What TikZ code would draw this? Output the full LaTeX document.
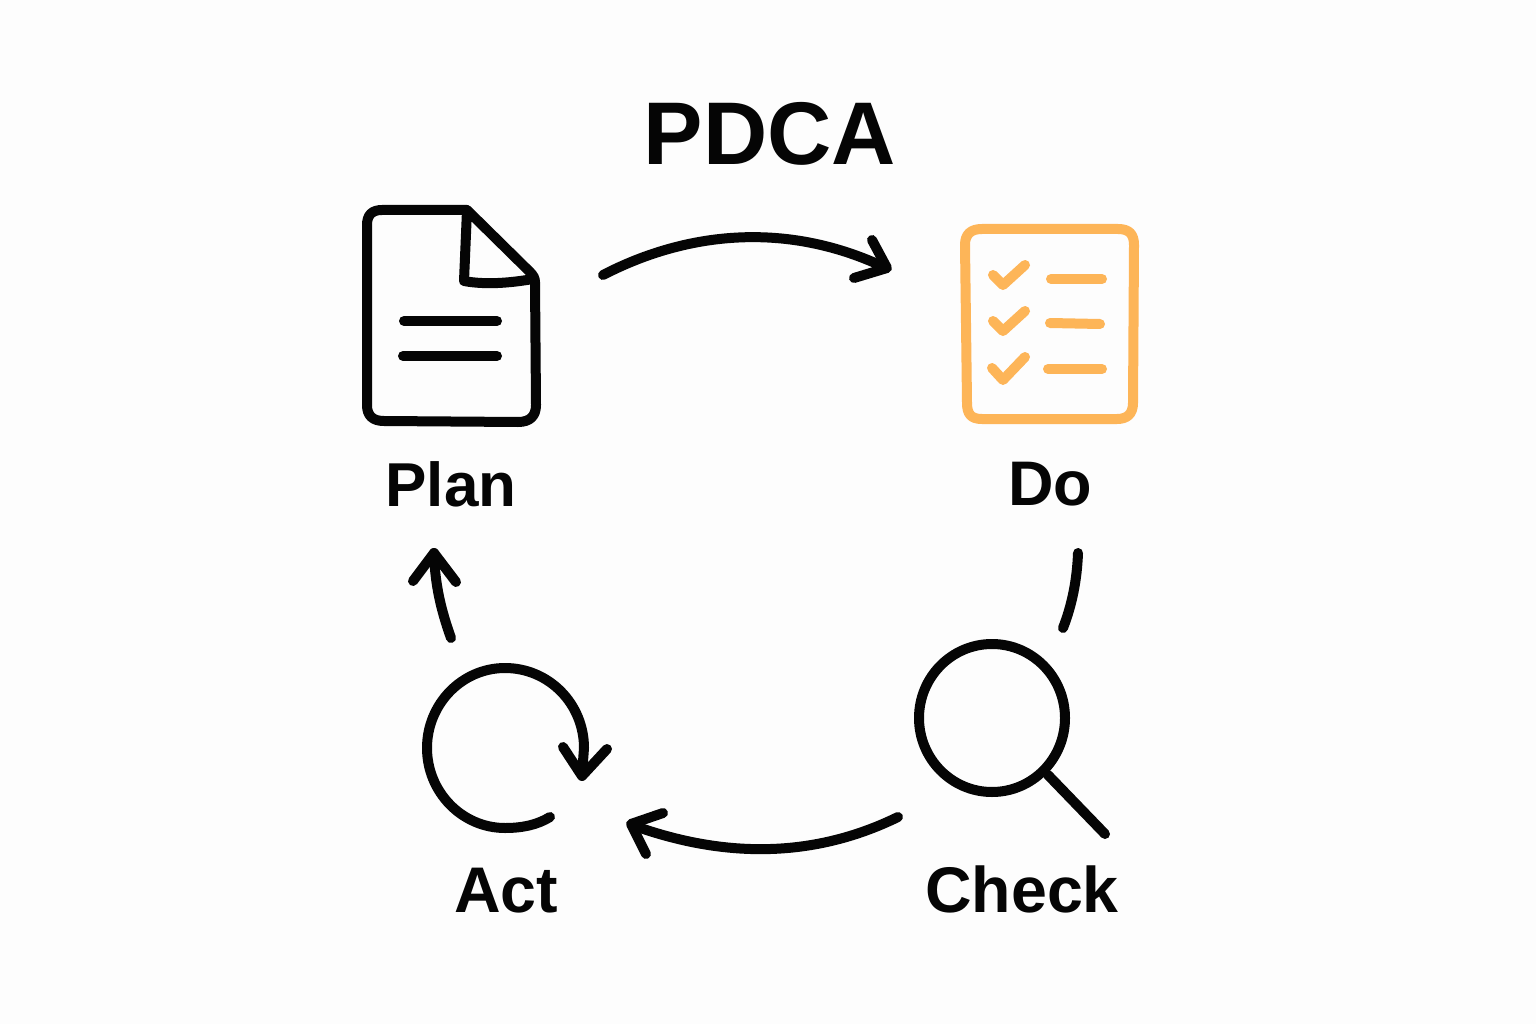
\documentclass[tikz,border=0pt]{standalone}
\usepackage{fontspec}
\setmainfont{Liberation Sans}
\definecolor{ink}{HTML}{050505}
\definecolor{amberc}{HTML}{FDB558}
\definecolor{paper}{HTML}{FDFDFD}
\tikzset{
 lab/.style={text=ink,inner sep=0pt,anchor=base,font=\fontsize{62}{66}\selectfont\bfseries},
 ic/.style={draw=ink,line width=10pt,line cap=round,line join=round,fill=none},
 am/.style={draw=amberc,line width=10pt,line cap=round,line join=round,fill=none},
}
\begin{document}
\begin{tikzpicture}[x=1pt,y=-1pt]
\useasboundingbox (0,0) rectangle (1536,1024);
\fill[paper] (0,0) rectangle (1536,1024);
\node[lab,font=\fontsize{89}{96}\selectfont\bfseries] (title) at (770,165) {PDCA};
\node[lab] (plan) at (451,506) {Plan};
\node[lab,font=\fontsize{63}{66}\selectfont\bfseries] (do) at (1050,505) {Do};
\node[lab,font=\fontsize{64.5}{68}\selectfont\bfseries] (check) at (1022,912) {Check};
\node[lab,font=\fontsize{64.5}{68}\selectfont\bfseries] (act) at (506,912) {Act};
% Plan icon
\draw[ic] (467,210) -- (382,210) .. controls (372,210) and (367,215) .. (367,225) -- (367,405)
 .. controls (367,416) and (373,421) .. (384,421) -- (518,422) .. controls (530,422) and (536,416) .. (536,405)
 -- (535,282) .. controls (535,278) and (533,275) .. (530,272) -- (467,210) -- (464,281) .. controls (485,285) and (510,283) .. (533,279);
\draw[ic] (404,321) -- (497,321);
\draw[ic] (403,356) -- (497,356);
% Do icon
\draw[am] (982,229) -- (1118,229) .. controls (1129,229) and (1134,234) .. (1134,245) -- (1133,403)
 .. controls (1133,414) and (1127,419) .. (1117,419) -- (982,419) .. controls (971,419) and (967,414) .. (967,403)
 -- (965,245) .. controls (965,234) and (971,229) .. (982,229) -- cycle;
\draw[am] (993,275) -- (1003,285) -- (1025,265);
\draw[am] (993,321) -- (1003,331) -- (1025,311);
\draw[am] (992,368) -- (1003,380) -- (1025,357);
\draw[am] (1051,279) -- (1102,279);
\draw[am] (1050,323) -- (1100,324);
\draw[am] (1048,369) -- (1102,369);
% Check icon
\draw[ic] (992,718) ellipse [x radius=73,y radius=74];
\draw[ic] (1048,775) -- (1105,834);
% Act icon
\draw[ic] (550,817) .. controls (537,825) and (522,828) .. (505,828) .. controls (462,828) and (427,792) .. (427,748)
 .. controls (427,704) and (462,668) .. (505,668) .. controls (549,668) and (584,704) .. (584,748) -- (582,775);
\draw[ic] (563,747) -- (582,776) -- (607,749);
% Arrows
\coordinate (a1) at (603,275); \coordinate (a2) at (886,268);
\coordinate (b1) at (1078,553); \coordinate (b2) at (1063,628);
\coordinate (c1) at (898,817); \coordinate (c2) at (632,825);
\coordinate (d1) at (451,638); \coordinate (d2) at (434,553);
\draw[ic] (a1) .. controls (690,230) and (790,222) .. (a2);
\draw[ic] (872,240) -- (887,268) -- (854,278);
\draw[ic] (b1) .. controls (1077,580) and (1072,605) .. (b2);
\draw[ic] (c1) .. controls (810,860) and (720,857) .. (c2);
\draw[ic] (663,813) -- (631,824) -- (646,854);
\draw[ic] (d1) .. controls (441,610) and (435,585) .. (d2);
\draw[ic] (413,581) -- (434,553) -- (456,582);
\end{tikzpicture}
\end{document}
